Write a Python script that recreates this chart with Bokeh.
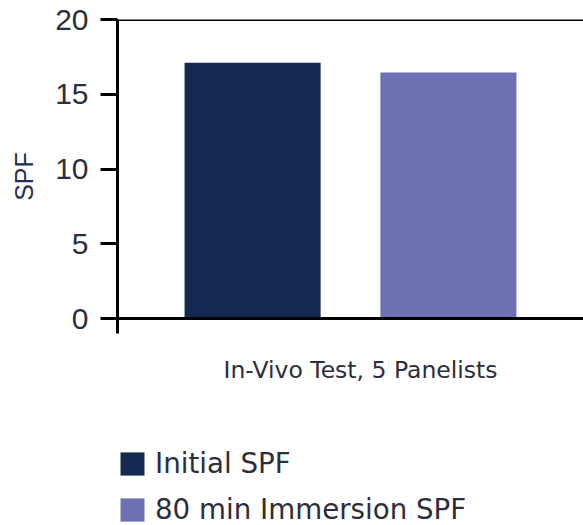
from bokeh.plotting import figure
from bokeh.models import Range1d, FactorRange, Span, Legend, LegendItem, ColumnDataSource, Title
from bokeh.layouts import column
from bokeh.embed import file_html
from bokeh.resources import INLINE

# ---- data ----
series = ["Initial SPF", "80 min Immersion SPF"]
spf_values = [17.1, 16.45]
colors = ["#142a50", "#6b71b3"]
group_label = "In-Vivo Test, 5 Panelists"
y_ticks = [0, 5, 10, 15, 20]

TEXT = "#2b2e3b"

src = ColumnDataSource(dict(series=series, spf=spf_values, color=colors))
x_range = FactorRange(factors=series, range_padding=0.19, range_padding_units="absolute")

# ---- main chart ----
p = figure(
    x_range=x_range, y_range=Range1d(-1, 20),
    width=583, height=403,
    min_border_left=117, min_border_top=19, min_border_right=0, min_border_bottom=70,
    output_backend="svg", toolbar_location=None,
)
p.outline_line_color = None
p.xgrid.visible = False
p.ygrid.visible = False
p.border_fill_color = "white"
p.xaxis.visible = False

p.vbar(x="series", top="spf", bottom=0, width=0.695, fill_color="color",
       line_color=None, source=src)

ya = p.yaxis[0]
ya.ticker = y_ticks
ya.axis_line_width = 3
ya.axis_line_color = "black"
ya.major_tick_out = 17
ya.major_tick_in = 0
ya.major_tick_line_width = 3
ya.major_tick_line_color = "black"
ya.minor_tick_line_color = None
ya.major_label_standoff = 12
ya.major_label_text_font = "Liberation Sans"
ya.major_label_text_font_size = "30px"
ya.major_label_text_color = TEXT
ya.axis_label = "SPF"
ya.axis_label_text_font = "Liberation Sans"
ya.axis_label_text_font_size = "25px"
ya.axis_label_text_font_style = "normal"
ya.axis_label_text_color = "#23304f"
ya.axis_label_standoff = 14

p.add_layout(Title(text=group_label, align="left", standoff=40, offset=106,
                   text_font="DejaVu Sans", text_font_size="23.5px",
                   text_font_style="normal", text_color=TEXT), "below")

p.add_layout(Span(location=0, dimension="width", line_color="black", line_width=3))
p.add_layout(Span(location=20, dimension="width", line_color="black", line_width=3))

# ---- legend strip (legend proxies are hidden renderers) ----
q = figure(
    x_range=x_range, y_range=Range1d(-3, -2),
    width=583, height=122,
    min_border_left=112, min_border_top=44, min_border_right=0, min_border_bottom=0,
    output_backend="svg", toolbar_location=None,
)
q.outline_line_color = None
q.axis.visible = False
q.grid.visible = False
q.border_fill_color = "white"
rq = q.vbar(x="series", top="spf", bottom=0, width=0.695, fill_color="color",
            line_color=None, source=src)
rq.visible = False

legend = Legend(
    items=[LegendItem(label=series[i], renderers=[rq], index=i) for i in range(len(series))],
    location="top_left", orientation="vertical", click_policy="none",
    glyph_width=30, glyph_height=29, label_height=29, spacing=13,
    label_standoff=8, padding=0, margin=0,
    border_line_color=None, background_fill_alpha=0,
    label_text_font="DejaVu Sans", label_text_font_size="27.7px",
    label_text_color=TEXT,
)
q.add_layout(legend)

open("out.html", "w").write(file_html(column(p, q, spacing=0), INLINE))
